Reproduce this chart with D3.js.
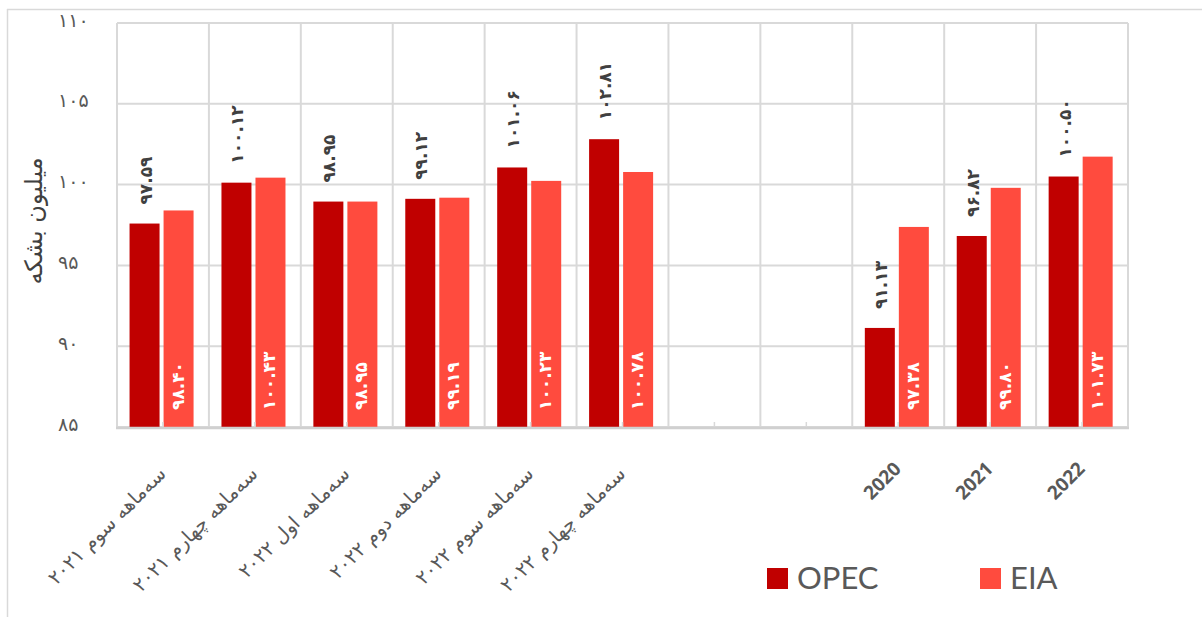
<!DOCTYPE html>
<html>
<head>
<meta charset="utf-8">
<script src="https://cdn.jsdelivr.net/npm/d3@7"></script>
<style>
  html, body { margin: 0; padding: 0; background: #fff; }
  svg { display: block; }
</style>
</head>
<body>
<svg id="chart" width="1202" height="617"></svg>
<script>
// ---- data ----
const categories = [
  "سه‌ماهه سوم ۲۰۲۱",
  "سه‌ماهه چهارم ۲۰۲۱",
  "سه‌ماهه اول ۲۰۲۲",
  "سه‌ماهه دوم ۲۰۲۲",
  "سه‌ماهه سوم ۲۰۲۲",
  "سه‌ماهه چهارم ۲۰۲۲",
  "",
  "",
  "2020",
  "2021",
  "2022"
];
const opecValues = [97.59, 100.12, 98.95, 99.12, 101.06, 102.81, null, null, 91.13, 96.82, 100.50];
const eiaValues  = [98.40, 100.43, 98.95, 99.19, 100.23, 100.78, null, null, 97.38, 99.80, 101.73];
const seriesNames = ["OPEC", "EIA"];
const yTicks = [85, 90, 95, 100, 105, 110];
const yAxisTitle = "میلیون بشکه";

// ---- helpers ----
const faDigits = "۰۱۲۳۴۵۶۷۸۹";
const toFa = s => String(s).replace(/[0-9]/g, d => faDigits[+d]);

const colors = { OPEC: "#C00000", EIA: "#FF4B3E" };
const gridColor = "#d9d9d9";
const textColor = "#595959";

const svg = d3.select("#chart");
const W = 1202, H = 617;
const plot = { left: 117, right: 1128, top: 23, bottom: 427 };

// outer chart frame (partly outside view)
svg.append("line").attr("x1", 7).attr("x2", W).attr("y1", 9.5).attr("y2", 9.5)
  .attr("stroke", gridColor).attr("stroke-width", 1.5);
svg.append("line").attr("x1", 7.5).attr("x2", 7.5).attr("y1", 9).attr("y2", H)
  .attr("stroke", gridColor).attr("stroke-width", 1.5);

// scales
const x = d3.scaleBand().domain(d3.range(categories.length))
  .range([plot.left, plot.right]).paddingInner(0).paddingOuter(0);
const xs = d3.scaleBand().domain(seriesNames)
  .range([0, x.bandwidth()]).paddingInner(0.118).paddingOuter(0.41).align(0.45);
const y = d3.scaleLinear().domain([85, 110]).range([plot.bottom, plot.top]);

// gridlines
const g = svg.append("g");
g.selectAll("line.h").data(yTicks).join("line")
  .attr("x1", plot.left).attr("x2", plot.right)
  .attr("y1", d => y(d)).attr("y2", d => y(d))
  .attr("stroke", gridColor).attr("stroke-width", 2);
const bounds = d3.range(categories.length + 1).map(i => i < categories.length ? x(i) : x(categories.length - 1) + x.bandwidth());
g.selectAll("line.v").data(bounds).join("line")
  .attr("x1", d => d).attr("x2", d => d)
  .attr("y1", plot.top).attr("y2", plot.bottom)
  .attr("stroke", gridColor).attr("stroke-width", 2);

// bars
const rows = categories.map((c, i) => ({ i, OPEC: opecValues[i], EIA: eiaValues[i] }));
const barG = svg.append("g");
seriesNames.forEach(s => {
  barG.selectAll("rect." + s).data(rows.filter(r => r[s] != null)).join("rect")
    .attr("x", r => x(r.i) + xs(s))
    .attr("width", xs.bandwidth())
    .attr("y", r => y(r[s]))
    .attr("height", r => y(85) - y(r[s]))
    .attr("fill", colors[s]);
});

// small tick marks at category centers
svg.append("g").selectAll("line").data(d3.range(categories.length)).join("line")
  .attr("x1", i => x(i) + x.bandwidth() / 2).attr("x2", i => x(i) + x.bandwidth() / 2)
  .attr("y1", plot.bottom - 5).attr("y2", plot.bottom)
  .attr("stroke", gridColor).attr("stroke-width", 1.5);

// bottom axis line
svg.append("line").attr("x1", plot.left - 1).attr("x2", plot.right + 1)
  .attr("y1", plot.bottom + 1).attr("y2", plot.bottom + 1)
  .attr("stroke", "#d0d0d0").attr("stroke-width", 2.5);

// value labels
const lab = svg.append("g").attr("font-family", "DejaVu Sans").attr("font-weight", "bold").attr("font-size", 17);
rows.filter(r => r.OPEC != null).forEach(r => {
  const cx = x(r.i) + xs("OPEC") + xs.bandwidth() / 2;
  const yy = y(r.OPEC) - 19;
  lab.append("text")
    .attr("transform", `translate(${cx + 7},${yy}) rotate(-90)`)
    .attr("text-anchor", "start")
    .attr("fill", "#404040")
    .text(toFa(r.OPEC.toFixed(2)));
});
rows.filter(r => r.EIA != null).forEach(r => {
  const cx = x(r.i) + xs("EIA") + xs.bandwidth() / 2;
  lab.append("text")
    .attr("transform", `translate(${cx + 5},${plot.bottom - 17}) rotate(-90)`)
    .attr("text-anchor", "start")
    .attr("fill", "#ffffff")
    .text(toFa(r.EIA.toFixed(2)));
});

// y tick labels
svg.append("g").selectAll("text").data(yTicks).join("text")
  .attr("x", 58).attr("y", d => y(d) - 2)
  .attr("dominant-baseline", "middle")
  .attr("font-family", "DejaVu Sans").attr("font-size", 19)
  .attr("fill", textColor)
  .text(d => toFa(d));

// y axis title
svg.append("text")
  .attr("transform", "translate(42,221) rotate(-90)")
  .attr("text-anchor", "middle")
  .attr("font-family", "DejaVu Sans").attr("font-size", 24)
  .attr("fill", "#404040")
  .text(yAxisTitle);

// x category labels
const xl = svg.append("g");
categories.forEach((c, i) => {
  if (!c) return;
  const cx = x(i) + x.bandwidth() / 2;
  const isYear = /^[0-9]+$/.test(c);
  xl.append("text")
    .attr("transform", `translate(${cx + 4},${isYear ? 470 : 475}) rotate(-45)`)
    .attr("text-anchor", "end")
    .attr("font-family", isYear ? "Open Sans" : "DejaVu Sans")
    .attr("font-weight", isYear ? "bold" : "normal")
    .attr("font-size", isYear ? 19 : 19.5)
    .attr("fill", textColor)
    .text(c);
});

// legend
const legendPos = { OPEC: 767, EIA: 980 };
const lg = svg.append("g");
seriesNames.forEach(s => {
  lg.append("rect").attr("x", legendPos[s]).attr("y", 568).attr("width", 21).attr("height", 21).attr("fill", colors[s]);
  lg.append("text").attr("x", legendPos[s] + 30).attr("y", 589)
    .attr("font-family", "Lato").attr("font-size", 31).attr("fill", textColor).text(s);
});
</script>
</body>
</html>
